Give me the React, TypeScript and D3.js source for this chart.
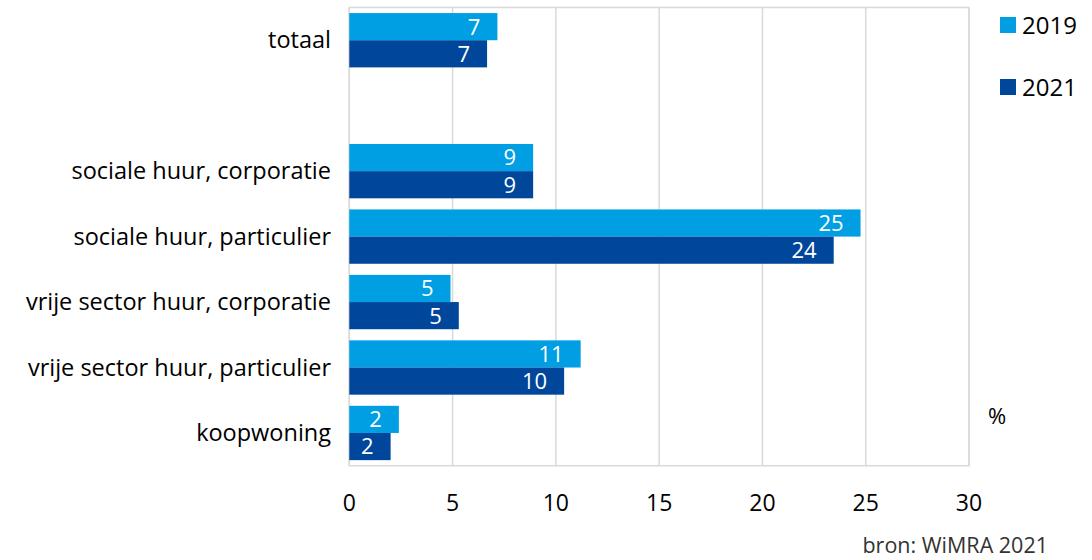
import * as d3 from "d3";

// categorieën (lege regel tussen totaal en de rest)
const categories = [
  "totaal",
  "",
  "sociale huur, corporatie",
  "sociale huur, particulier",
  "vrije sector huur, corporatie",
  "vrije sector huur, particulier",
  "koopwoning",
];
const years = ["2019", "2021"];
const values2019 = [7.17, null, 8.9, 24.75, 4.9, 11.2, 2.4];
const values2021 = [6.67, null, 8.9, 23.45, 5.3, 10.4, 2.0];
const labels2019 = ["7", "", "9", "25", "5", "11", "2"];
const labels2021 = ["7", "", "9", "24", "5", "10", "2"];
const xTicks = [0, 5, 10, 15, 20, 25, 30];
const colors = ["#009fe3", "#00479b"];

const W = 1092;
const H = 560;
const FONT = "'Open Sans', Lato, sans-serif";

export default function App() {
  const left = 349.3;
  const right = 969;
  const top = 7.5;
  const bottom = 465.7;

  const x = d3.scaleLinear().domain([0, 30]).range([left, right]);
  const y = d3.scaleBand<string>().domain(categories.map((c, i) => i + "")).range([top, bottom]).padding(0);
  const groupH = y.bandwidth() * 0.83;
  const barH = groupH / 2;

  const series = [values2019, values2021];
  const labels = [labels2019, labels2021];

  return (
    <svg width={W} height={H} style={{ position: "absolute", left: 0, top: 0, fontFamily: FONT }}>
      <rect width={W} height={H} fill="#fff" />
      {/* gridlijnen */}
      {xTicks.map((t) => (
        <line key={t} x1={x(t)} x2={x(t)} y1={top} y2={bottom} stroke="#d9d9d9" strokeWidth={1.5} />
      ))}
      <rect x={left} y={top} width={right - left} height={bottom - top} fill="none" stroke="#d9d9d9" strokeWidth={1.5} />

      {/* balken */}
      {categories.map((c, i) => {
        const cy = (y(i + "") ?? 0) + y.bandwidth() / 2;
        const y0 = cy - groupH / 2;
        return (
          <g key={i}>
            {series.map((vals, s) => {
              const v = vals[i];
              if (v == null) return null;
              const by = y0 + s * barH;
              return (
                <g key={s}>
                  <rect x={x(0)} y={by} width={x(v) - x(0)} height={barH} fill={colors[s]} />
                  <text x={x(v) - 17} y={by + barH / 2} dy="0.36em" textAnchor="end" fill="#fff" fontSize={22}>
                    {labels[s][i]}
                  </text>
                </g>
              );
            })}
            {c && (
              <text x={331} y={cy} dy="0.35em" textAnchor="end" fill="#000" fontSize={23.5}>
                {c}
              </text>
            )}
          </g>
        );
      })}

      {/* x-as labels */}
      {xTicks.map((t) => (
        <text key={t} x={x(t)} y={511} textAnchor="middle" fill="#000" fontSize={23}>
          {t}
        </text>
      ))}

      {/* legenda */}
      {years.map((yr, i) => (
        <g key={yr} transform={`translate(1000, ${17 + i * 62})`}>
          <rect width={16} height={16} fill={colors[i]} />
          <text x={22} y={8} dy="0.36em" fontSize={24} fill="#000">
            {yr}
          </text>
        </g>
      ))}

      <text x={988} y={424} fontSize={22} fill="#000">%</text>
      <text x={1048} y={553} textAnchor="end" fontSize={21.5} fill="#333">bron: WiMRA 2021</text>
    </svg>
  );
}
